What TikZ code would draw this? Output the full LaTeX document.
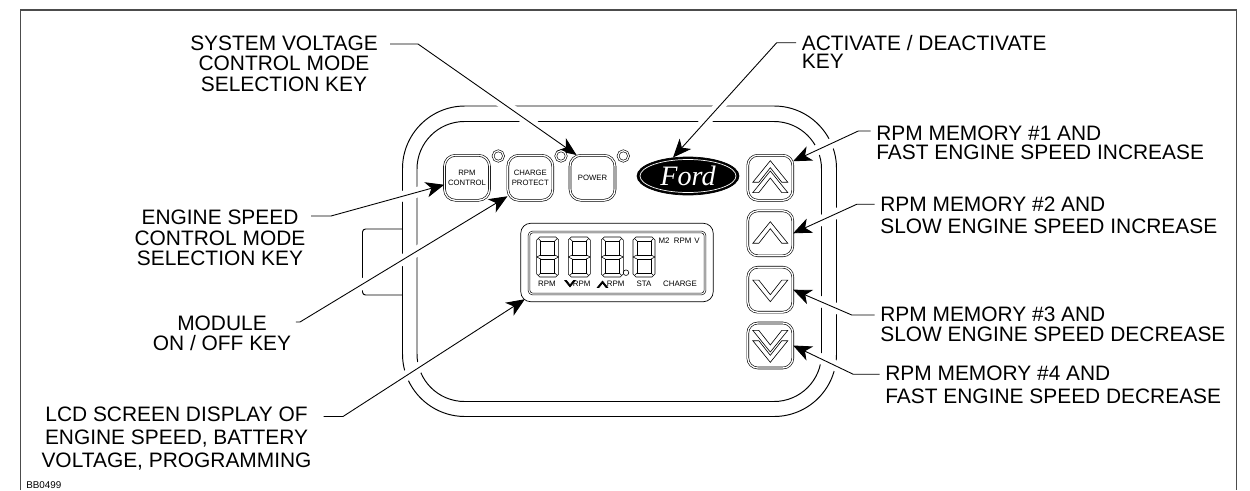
\documentclass[tikz,border=0pt]{standalone}
\usepackage{fontspec}
\setmainfont{Liberation Sans}
\newfontfamily\fordfont{Liberation Serif}
\usetikzlibrary{arrows.meta, positioning, shapes.geometric}

\begin{document}
\begin{tikzpicture}[
        x = 0.02cm,
        y = -0.02cm,
        >= {Stealth[length = 10.5pt, width = 8.8pt, inset = 3pt]},
        shell/.style = {draw = black, line width = 0.55pt},
        frameline/.style = {draw = black!70, line width = 0.7pt},
        leader/.style = {draw = black, line width = 0.5pt, ->, shorten < = 3pt,
            preaction = {draw = white, line width = 6pt, -, shorten > = 9pt}},
        callout/.style = {font = \fontsize{11.9}{11.7}\selectfont, align = center, inner sep = 0pt},
        memo/.style = {callout, align = left, anchor = west},
        keycap/.style = {rectangle, rounded corners = 2.2mm, draw = black, line width = 0.35pt,
            double = white, double distance = 0.75pt, minimum width = 9mm, minimum height = 9mm,
            inner sep = 0pt, align = center, font = \fontsize{4.4}{5.6}\selectfont},
        lamp/.style = {circle, draw = black, line width = 0.35pt, double = white,
            double distance = 0.7pt, minimum size = 2.1mm, inner sep = 0pt},
        tiny/.style = {inner sep = 0pt, font = \fontsize{4.5}{5}\selectfont},
        pics/digit/.style = {code = {
            \draw[line width = 0.3pt] (-8,-20) -- (8,-20) -- (11,-17) -- (11,17) -- (8,20)
                -- (-8,20) -- (-11,17) -- (-11,-17) -- cycle;
            \draw[line width = 0.3pt] (-7,-16) rectangle (7,-2) (-7,2) rectangle (7,16);
            \draw[line width = 0.3pt] (-11,0) -- (-7,-2) (-11,0) -- (-7,2) (11,0) -- (7,-2) (11,0) -- (7,2)
                (-9.5,-18.5) -- (-7,-16) (9.5,-18.5) -- (7,-16) (-9.5,18.5) -- (-7,16) (9.5,18.5) -- (7,16);
        }},
        pics/chevron/.style = {code = {
            \draw[line width = 0.35pt, pic actions] (0,0) -- (17.5,21.6) -- (11.5,21.6) -- (0,7)
                -- (-11.5,21.6) -- (-17.5,21.6) -- cycle;
        }}
    ]

    \useasboundingbox (0,0) rectangle (1250,490);

    \draw[frameline] (20.5,490) -- (20.5,10) -- (1236.5,10) -- (1236.5,490);

    \draw[shell, rounded corners = 1.25cm] (402.5,106) rectangle (836.5,416.5);
    \draw[shell, rounded corners = 0.95cm] (417,121.5) rectangle (821.5,401.5);
    \draw[shell, rounded corners = 0.6mm] (402.5,229) -- (362.5,229) -- (362.5,295) -- (402.5,295);

    \node[keycap] (rpmKey)    at (467,177.8)   {RPM\\CONTROL};
    \node[keycap] (chargeKey) at (530.3,177.8) {CHARGE\\PROTECT};
    \node[keycap] (powerKey)  at (592.5,177.8) {POWER};

    \node[ellipse, fill = black, draw = black, minimum width = 20.4mm, minimum height = 7.6mm,
        inner sep = 0pt, text = white, font = \fordfont\itshape\fontsize{16}{16}\selectfont] (fordBadge) at (688,176) {Ford};
    \draw[white, line width = 0.4pt] (fordBadge.center) ellipse [x radius = 48, y radius = 16.5];

    \node[rectangle, rounded corners = 2mm, draw = black, line width = 0.4pt,
        minimum width = 38.5mm, minimum height = 15.7mm] (lcdFrame) at (617,262.5) {};
    \node[rectangle, rounded corners = 0.7mm, draw = black, line width = 0.35pt, double = white,
        double distance = 0.6pt, minimum width = 35.2mm, minimum height = 12.4mm] (lcdGlass) at (617,263) {};

    \pic at (547.7,257) {digit};
    \pic at (579.3,257) {digit};
    \pic at (612.3,257) {digit};
    \pic at (644,257) {digit};
    \node[circle, draw = black, line width = 0.35pt, minimum size = 1.1mm, inner sep = 0pt] (lcdPoint) at (626,272.7) {};

    \node[tiny] (lblMtwo)   at (664,241)   {M2};
    \node[tiny] (lblTopRpm) at (682.7,241) {RPM};
    \node[tiny] (lblVolt)   at (697,241)   {V};
    \node[tiny] (lblRpm)    at (547,284)   {RPM};
    \node[tiny] (lblDown)   at (581.7,284) {RPM};
    \node[tiny] (lblUp)     at (615.7,284) {RPM};
    \node[tiny] (lblSta)    at (644,284)   {STA};
    \node[tiny] (lblCharge) at (680,284)   {CHARGE};
    \pic[scale = 0.3, yscale = -1, fill = black] at (570,287) {chevron};
    \pic[scale = 0.3, fill = black] at (602.5,281) {chevron};

    \node[keycap, rounded corners = 2mm] (keyOne)   at (770.3,177.8) {};
    \node[keycap, rounded corners = 2mm] (keyTwo)   at (770.3,233.3) {};
    \node[keycap, rounded corners = 2mm] (keyThree) at (770.3,289.7) {};
    \node[keycap, rounded corners = 2mm] (keyFour)  at (770.3,345.5) {};

    \pic at (770.3,160.7) {chevron};
    \pic at (770.3,171)   {chevron};
    \pic at (770.3,221.7) {chevron};
    \pic[yscale = -1] at (770.3,301.7) {chevron};
    \pic[yscale = -1] at (770.3,352)   {chevron};
    \pic[yscale = -1] at (770.3,362.3) {chevron};

    \node[callout] (systemLabel) at (284,63.5) {SYSTEM VOLTAGE\\CONTROL MODE\\SELECTION KEY};
    \node[callout] (engineLabel) at (220,238)  {ENGINE SPEED\\CONTROL MODE\\SELECTION KEY};
    \node[callout] (moduleLabel) at (222,333.5) {MODULE\\ON / OFF KEY};
    \node[callout, font = \fontsize{11.9}{13}\selectfont] (lcdLabel) at (176.5,438.5) {LCD SCREEN DISPLAY OF\\ENGINE SPEED, BATTERY\\VOLTAGE, PROGRAMMING};
    \node[memo, font = \fontsize{11.9}{10.3}\selectfont] (activateLabel) at (801.5,52) {ACTIVATE / DEACTIVATE\\KEY};
    \node[memo, font = \fontsize{11.9}{11}\selectfont] (memOneLabel) at (876,142.5) {RPM MEMORY \#1 AND\\FAST ENGINE SPEED INCREASE};
    \node[memo, font = \fontsize{11.9}{12.4}\selectfont] (memTwoLabel) at (880,215) {RPM MEMORY \#2 AND\\SLOW ENGINE SPEED INCREASE};
    \node[memo, font = \fontsize{11.9}{11.4}\selectfont] (memThreeLabel) at (880,324) {RPM MEMORY \#3 AND\\SLOW ENGINE SPEED DECREASE};
    \node[memo, font = \fontsize{11.9}{13}\selectfont] (memFourLabel) at (885,384.5) {RPM MEMORY \#4 AND\\FAST ENGINE SPEED DECREASE};
    \node[inner sep = 0pt, anchor = west, font = \fontsize{5.6}{6}\selectfont] (plateLabel) at (26,485) {BB0499};

    \coordinate (systemElbow)   at (418,44);
    \coordinate (engineElbow)   at (331,216);
    \coordinate (moduleElbow)   at (300,322);
    \coordinate (lcdElbow)      at (343,416.5);
    \coordinate (activateElbow) at (776.7,42.7);
    \coordinate (memOneElbow)   at (858.3,131);
    \coordinate (memTwoElbow)   at (856.7,204.3);
    \coordinate (memThreeElbow) at (851.7,315);
    \coordinate (memFourElbow)  at (853.3,374.3);

    \draw[leader, shorten < = 6.8pt] (systemLabel.east |- systemElbow) -- (systemElbow) -- (powerKey.125);
    \draw[leader] (engineLabel.east |- engineElbow) -- (engineElbow) -- (rpmKey.197);
    \draw[leader, shorten < = 2.5pt] (moduleLabel.east |- moduleElbow) -- (moduleElbow) -- (chargeKey.219);
    \draw[leader, shorten < = 6.8pt, shorten > = -3pt] (lcdLabel.east |- lcdElbow) -- (lcdElbow) -- (lcdFrame.south west);
    \draw[leader] (activateLabel.west |- activateElbow) -- (activateElbow) -- (fordBadge.129);
    \draw[leader] (memOneLabel.west |- memOneElbow) -- (memOneElbow) -- (keyOne.36);
    \draw[leader] (memTwoLabel.west |- memTwoElbow) -- (memTwoElbow) -- (keyTwo.east);
    \draw[leader] (memThreeLabel.west |- memThreeElbow) -- (memThreeElbow) -- (keyThree.east);
    \draw[leader] (memFourLabel.west |- memFourElbow) -- (memFourElbow) -- (keyFour.east);

    \node[lamp] (rpmLamp)    at (498.3,156) {};
    \node[lamp] (chargeLamp) at (561,156)   {};
    \node[lamp] (powerLamp)  at (623.3,156) {};

\end{tikzpicture}
\end{document}
